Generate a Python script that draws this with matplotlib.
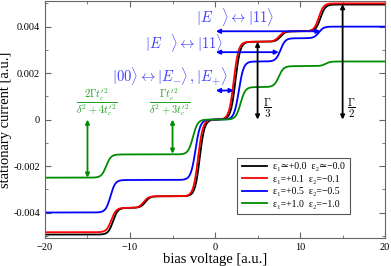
import numpy as np
import matplotlib
matplotlib.use("Agg")
import matplotlib.pyplot as plt

plt.rcParams['font.family'] = ['Liberation Serif', 'DejaVu Serif']
plt.rcParams['mathtext.fontset'] = 'cm'

# step model of each curve: starting level, step centres (bias), step heights
etiquetas = ['ε₁≃+0.0  ε₂≃−0.0',
             'ε₁=+0.1  ε₂=−0.1',
             'ε₁=+0.5  ε₂=−0.5',
             'ε₁=+1.0  ε₂=−1.0']
colores = ['black', '#ff0000', '#0000ff', '#008c00']
base = [-0.00495, -0.00485, -0.0040, -0.0025]
centros = [[-12.0, -8.2, -1.8, 2.4, 7.7, 12.4],
           [-12.2, -8.4, -2.0, 2.2, 7.5, 12.2],
           [-12.3, -2.3, 2.8, 7.7, 12.2],
           [-12.8, -2.6, 3.0, 7.5, 13.0]]
alturas = [[0.00115, 0.0005, 0.0033, 0.00335, 0.00045, 0.00115],
           [0.00105, 0.0005, 0.0033, 0.00335, 0.00045, 0.0012],
           [0.0014, 0.0026, 0.0025, 0.0010, 0.0005],
           [0.0010, 0.0015, 0.0014, 0.0009, 0.0002]]
ancho = 0.28

voltaje = np.linspace(-20, 20, 1200)


def curva(b, cs, hs):
    y = np.full_like(voltaje, b)
    for c, h in zip(cs, hs):
        y += h / (1 + np.exp(-(voltaje - c) / ancho))
    return y


fig = plt.figure(figsize=(3.91, 2.66), dpi=100)
ax = fig.add_axes([0.115, 0.105, 0.87, 0.891])

for i in range(4):
    ax.plot(voltaje, curva(base[i], centros[i], alturas[i]), color=colores[i],
            lw=1.3, label=etiquetas[i])

azul_txt = '#4040ff'
verde_txt = '#22a022'


def flecha(x0, y0, x1, y1, col):
    ax.annotate('', xy=(x1, y1), xytext=(x0, y0),
                arrowprops=dict(arrowstyle='<|-|>', color=col, lw=1.3,
                                mutation_scale=6, shrinkA=0, shrinkB=0))


# blue transitions
flecha(0.1, 0.0038, 12.4, 0.0038, '#0000ff')
flecha(0.1, 0.0029, 7.5, 0.0029, '#0000ff')
flecha(0.1, 0.00125, 2.2, 0.00125, '#0000ff')
ax.text(2.3, 0.0044, r'$|E\;\;\;\rangle \leftrightarrow |11\rangle$', color=azul_txt,
        fontsize=10.5, ha='center', va='center')
ax.text(-3.6, 0.0033, r'$|E\;\;\;\rangle \leftrightarrow |11\rangle$', color=azul_txt,
        fontsize=10.5, ha='center', va='center')
ax.text(-5.3, 0.00185, r'$|00\rangle \leftrightarrow |E_{-}\rangle\,,|E_{+}\rangle$',
        color=azul_txt, fontsize=10.5, ha='center', va='center')

# green widths
flecha(-15, 0, -15, -0.0025, '#008c00')
flecha(-5, 0, -5, -0.00147, '#008c00')
ax.text(-13.9, 0.00075, r"$\dfrac{2\Gamma t_c'^2}{\delta^2+4t_c'^2}$", color=verde_txt,
        fontsize=7.5, ha='center', va='center')
ax.text(-5.3, 0.00075, r"$\dfrac{\Gamma t_c'^2}{\delta^2+3t_c'^2}$", color=verde_txt,
        fontsize=7.5, ha='center', va='center')

# black widths
flecha(5, 0, 5, 0.00335, 'black')
flecha(15, 0, 15, 0.00497, 'black')
ax.text(6.2, 0.0005, r'$\dfrac{\Gamma}{3}$', fontsize=8, ha='center', va='center')
ax.text(16.0, 0.0005, r'$\dfrac{\Gamma}{2}$', fontsize=8, ha='center', va='center')

ax.set_xlim(-20, 20)
ax.set_ylim(-0.0051, 0.0051)
ax.set_xticks([-20, -10, 0, 10, 20])
ax.set_xticks([-15, -5, 5, 15], minor=True)
ax.set_yticks([-0.004, -0.002, 0, 0.002, 0.004])
ax.set_yticklabels(['-0.004', '-0.002', '0', '0.002', '0.004'])
ax.set_yticks(np.arange(-0.005, 0.0051, 0.001), minor=True)
ax.tick_params(which='both', direction='in', top=True, right=True, labelsize=7.5,
               color='#666666')
ax.tick_params(which='major', length=4)
ax.tick_params(which='minor', length=2)
for s in ax.spines.values():
    s.set_color('#666666')

ax.set_xlabel('bias voltage [a.u.]', fontsize=10.5, labelpad=1)
ax.set_ylabel('stationary current [a.u.]', fontsize=10.5, labelpad=1)

leg = ax.legend(loc='upper left', bbox_to_anchor=(0.55, 0.36), fontsize=7,
                handlelength=2.6, fancybox=False, framealpha=1, edgecolor='#555555',
                borderpad=0.5, labelspacing=0.35, handletextpad=0.6)
leg.get_frame().set_linewidth(0.8)

fig.savefig('out.png', dpi=100)
